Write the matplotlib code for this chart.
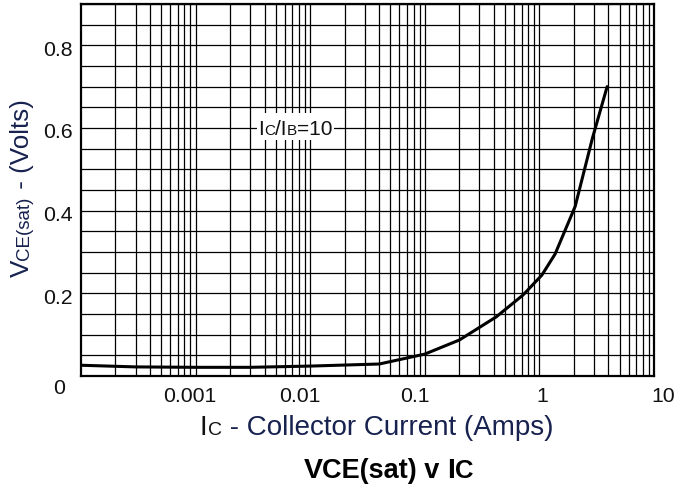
import matplotlib
matplotlib.use("Agg")
import matplotlib.pyplot as plt
import matplotlib.transforms as mtransforms
from matplotlib.ticker import FixedLocator, LogLocator, MultipleLocator, NullFormatter
from matplotlib.font_manager import FontProperties
from matplotlib.patches import Rectangle

FONT = "Liberation Sans"
plt.rcParams["font.family"] = [FONT, "DejaVu Sans"]

# ---- data ----
ic_amps = [0.0001, 0.0003, 0.001, 0.003, 0.01, 0.04, 0.1, 0.2, 0.42, 0.72,
           1.05, 1.37, 2.05, 2.9, 3.9]
vce_sat = [0.026, 0.022, 0.021, 0.021, 0.024, 0.029, 0.053, 0.087, 0.143, 0.196,
           0.244, 0.295, 0.41, 0.575, 0.70]
xtick_vals = [0.001, 0.01, 0.1, 1, 10]
xtick_labels = ["0.001", "0.01", "0.1", "1", "10"]
ytick_vals = [0.2, 0.4, 0.6, 0.8]
ytick_labels = ["0.2", "0.4", "0.6", "0.8"]

NAVY = "#17224f"
TICKSIZE = 15.3
W, H = 676, 484
fig = plt.figure(figsize=(W / 100, H / 100), dpi=100)
ax = fig.add_axes([81 / W, (H - 376) / H, (654 - 81) / W, (376 - 4) / H])
ax.set_xscale("log")
ax.set_xlim(1e-4, 10)
ax.set_ylim(0, 0.9)

ax.xaxis.set_major_locator(FixedLocator(xtick_vals))
ax.xaxis.set_minor_locator(LogLocator(base=10, subs=range(2, 10), numticks=30))
ax.xaxis.set_minor_formatter(NullFormatter())
ax.set_xticklabels(xtick_labels)
ax.yaxis.set_major_locator(FixedLocator(ytick_vals))
ax.yaxis.set_minor_locator(MultipleLocator(0.05))
ax.set_yticklabels(ytick_labels)

ax.grid(True, which="both", color="black", lw=0.9, zorder=1)
ax.set_axisbelow(True)
ax.tick_params(which="both", length=0)
ax.tick_params(axis="x", pad=8.2, labelsize=TICKSIZE, labelcolor="#111111")
ax.tick_params(axis="y", pad=5.8, labelsize=TICKSIZE, labelcolor="#111111")
for sp in ax.spines.values():
    sp.set_linewidth(1.6)
    sp.set_zorder(5)

# slight offsets of tick labels as in the reference
xoffs = [-6, -10, -10, 3, 9]
for lab, dx in zip(ax.get_xticklabels(), xoffs):
    lab.set_transform(lab.get_transform() +
                      mtransforms.ScaledTranslation(dx / 100, 0, fig.dpi_scale_trans))
for lab in ax.get_yticklabels():
    lab.set_transform(lab.get_transform() +
                      mtransforms.ScaledTranslation(0, -3 / 100, fig.dpi_scale_trans))

ax.plot(ic_amps, vce_sat, color="black", lw=2.2, zorder=4,
        solid_joinstyle="round", solid_capstyle="round")

renderer = fig.canvas.get_renderer()
IDT = mtransforms.IdentityTransform()


def run_width(s, size, weight="normal"):
    fp = FontProperties(family=FONT, size=size, weight=weight)
    w1, _, _ = renderer.get_text_width_height_descent("|" + s + "|", fp, ismath=False)
    w0, _, _ = renderer.get_text_width_height_descent("||", fp, ismath=False)
    return w1 - w0


def draw_runs(x, y, parts, rotation=0, zorder=6):
    """x, y: image pixel coordinates (top-left origin) of the baseline start."""
    pos = 0.0
    for s, size, color, weight in parts:
        if rotation == 90:
            px, py = x, (H - y) + pos
        else:
            px, py = x + pos, H - y
        fig.text(px, py, s, transform=IDT, fontsize=size, color=color,
                 fontweight=weight, family=FONT, rotation=rotation,
                 rotation_mode="anchor", ha="left", va="baseline", zorder=zorder)
        pos += run_width(s, size, weight)
    return pos


def total_width(parts):
    return sum(run_width(s, size, weight) for s, size, _, weight in parts)


# "0" origin label
fig.text(59.5, H - 389, "0", transform=IDT, fontsize=TICKSIZE, color="#111111",
         ha="center", va="center", family=FONT)

# y label
draw_runs(29, 277, [("V", 18.7, NAVY, "normal"),
                    ("CE(sat)", 13.5, NAVY, "normal"),
                    (" - (Volts)", 18.7, NAVY, "normal")], rotation=90)

# x label
draw_runs(200, 435, [("I", 20, "#111111", "normal"),
                     ("C", 14, "#111111", "normal"),
                     (" - Collector Current (Amps)", 20, NAVY, "normal")])

# title
tparts = [("V", 20.5, "black", "bold"), ("CE(sat) v ", 19.5, "black", "bold"),
          ("I", 20.5, "black", "bold"), ("C", 18.5, "black", "bold")]
tw = total_width(tparts)
draw_runs(388.5 - tw / 2, 478, tparts)

# Ic/IB=10 annotation with white box
ax.add_patch(Rectangle((0.0032, 0.571), 0.018 - 0.0032, 0.636 - 0.571,
                       facecolor="white", edgecolor="none", zorder=2))
ax.plot([0.0032, 0.018], [0.6, 0.6], color="black", lw=0.9, zorder=2.5)
lparts = [("I", 15, "#111111", "normal"), ("C", 11, "#111111", "normal"),
          ("/I", 15, "#111111", "normal"), ("B", 11, "#111111", "normal"),
          ("=10", 15, "#111111", "normal")]
lw_ = total_width(lparts)
cx, cy = ax.transData.transform((0.0074, 0.6))
cx_img, cy_img = cx, H - cy
x0 = cx_img - lw_ / 2
ax.add_patch(Rectangle((x0 - 1, cy - 9), lw_ + 3, 18, transform=IDT,
                       facecolor="white", edgecolor="none", zorder=2.7))
draw_runs(x0, cy_img + 7, lparts)

fig.savefig("out.png", dpi=100)
